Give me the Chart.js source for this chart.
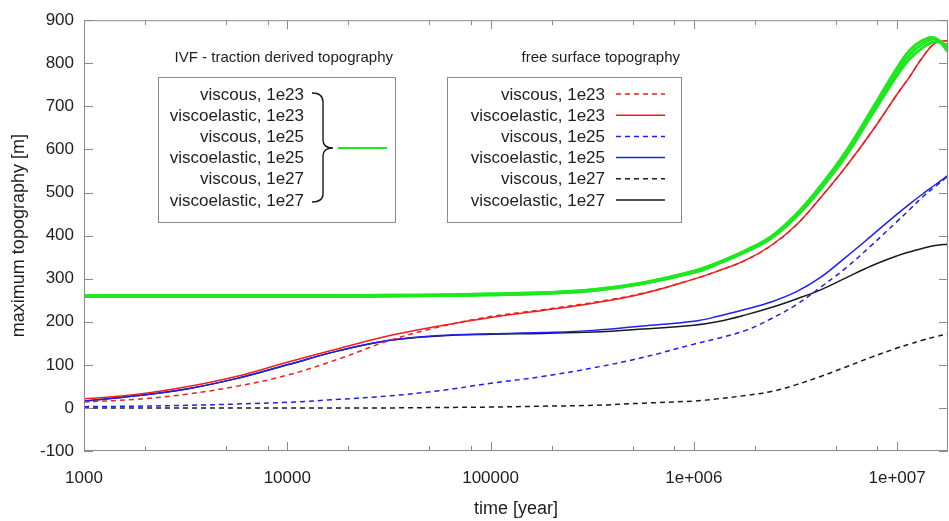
<!DOCTYPE html>
<html>
<head>
<meta charset="utf-8">
<script src="https://cdn.jsdelivr.net/npm/chart.js@4.4.0/dist/chart.umd.min.js"></script>
<style>
  html, body { margin: 0; padding: 0; background: #fff; overflow: hidden; }
</style>
</head>
<body>
<canvas id="chart" width="949" height="521"></canvas>
<script>
const times = [1000, 1800, 3200, 5600, 1e4, 1.8e4, 3.2e4, 5.6e4, 1e5, 1.8e5, 3.2e5, 5.6e5,
  1e6, 1.3e6, 1.8e6, 2.4e6, 3.2e6, 4.2e6, 5.6e6, 7.5e6, 1e7, 1.15e7, 1.33e7, 1.54e7, 1.78e7];

// IVF - traction derived topography (all drawn green)
const ivfVisc23 = [261, 261, 261, 261, 261, 261, 262, 263, 265, 268, 275, 291, 318, 337, 366, 398, 451, 516, 596, 693, 790, 830, 853, 859, 826];
const ivfVe23   = [261, 261, 261, 261, 261, 261, 262, 263, 265, 268, 275, 291, 318, 337, 366, 398, 450, 515, 595, 692, 789, 829, 852, 858, 827];
const ivfVisc25 = [259, 259, 259, 259, 259, 259, 260, 261, 263, 266, 273, 289, 316, 335, 364, 396, 448, 512, 591, 688, 781, 820, 845, 856, 836];
const ivfVe25   = [259, 259, 259, 259, 259, 259, 260, 261, 263, 266, 273, 289, 316, 335, 364, 396, 448, 512, 590, 687, 780, 819, 844, 856, 837];
const ivfVisc27 = [258, 258, 258, 258, 258, 258, 259, 260, 262, 265, 272, 288, 314, 333, 362, 393, 444, 507, 585, 680, 772, 810, 836, 850, 841];
const ivfVe27   = [258, 258, 258, 258, 258, 258, 259, 260, 262, 265, 272, 288, 314, 333, 362, 393, 444, 507, 584, 679, 771, 809, 835, 850, 842];

// free surface topography
const fsVisc23 = [14, 20, 32, 50, 76, 114, 157, 188, 212, 228, 245, 266, 299, 317, 343, 377, 425, 488, 560, 641, 728, 768, 813, 847, 853];
const fsVe23   = [21, 31, 49, 73, 106, 138, 168, 190, 210, 226, 243, 265, 299, 317, 343, 377, 425, 488, 560, 641, 728, 768, 813, 847, 853];
const fsVisc25 = [3, 4, 6, 9, 13, 20, 28, 40, 57, 73, 93, 117, 148, 161, 180, 207, 240, 280, 325, 378, 433, 460, 489, 514, 538];
const fsVe25   = [16, 28, 44, 68, 100, 133, 157, 168, 172, 175, 180, 190, 201, 212, 229, 246, 270, 303, 350, 400, 450, 473, 496, 518, 540];
const fsVisc27 = [0, 0, 0, 0, 0, 0, 0, 1, 2, 4, 6, 11, 16, 21, 29, 38, 54, 73, 95, 118, 139, 148, 157, 165, 172];
const fsVe27   = [16, 28, 44, 68, 100, 133, 157, 167, 171, 173, 176, 183, 192, 200, 216, 233, 253, 274, 302, 330, 353, 362, 370, 377, 380];

const xMajorTicks = [1e3, 1e4, 1e5, 1e6, 1e7];
const xTickLabels = ['1000', '10000', '100000', '1e+006', '1e+007'];
const xMinorTicks = [2e3, 5e3, 8e3, 2e4, 5e4, 8e4, 2e5, 5e5, 8e5, 2e6, 5e6, 8e6];
const yTicks = [-100, 0, 100, 200, 300, 400, 500, 600, 700, 800, 900];

const ivfLabels = ['viscous, 1e23', 'viscoelastic, 1e23', 'viscous, 1e25', 'viscoelastic, 1e25', 'viscous, 1e27', 'viscoelastic, 1e27'];
const fsLabels = ['viscous, 1e23', 'viscoelastic, 1e23', 'viscous, 1e25', 'viscoelastic, 1e25', 'viscous, 1e27', 'viscoelastic, 1e27'];

const GREEN = 'rgb(30, 232, 30)';
const RED = 'rgb(240, 30, 30)';
const BLUE = 'rgb(30, 30, 240)';
const BLACK = '#1a1a1a';
const TEXT = '#1e1e1e';
const AXIS = '#8a8a8a';
const FONT = '"Liberation Sans", Arial, sans-serif';

const fsStyles = [
  { color: RED, dash: [5, 4] }, { color: RED, dash: [] },
  { color: BLUE, dash: [5, 4] }, { color: BLUE, dash: [] },
  { color: BLACK, dash: [5, 4] }, { color: BLACK, dash: [] }
];

function toPoints(values) {
  return times.map((t, i) => ({ x: t, y: values[i] }));
}

const ivfSets = [ivfVisc23, ivfVe23, ivfVisc25, ivfVe25, ivfVisc27, ivfVe27].map((vals, i) => ({
  label: 'IVF ' + ivfLabels[i],
  data: toPoints(vals),
  borderColor: GREEN,
  borderWidth: 2.4,
  pointRadius: 0,
  tension: 0.4
}));

const fsSets = [fsVisc23, fsVe23, fsVisc25, fsVe25, fsVisc27, fsVe27].map((vals, i) => ({
  label: fsLabels[i],
  data: toPoints(vals),
  borderColor: fsStyles[i].color,
  borderDash: fsStyles[i].dash,
  borderWidth: 1.5,
  pointRadius: 0,
  tension: 0.4
}));

// frame and inward tick marks (gnuplot style)
const frameTicks = {
  id: 'frameTicks',
  afterDraw(chart) {
    const { ctx, chartArea: a, scales: { x, y } } = chart;
    ctx.save();
    ctx.strokeStyle = AXIS;
    ctx.lineWidth = 1;
    ctx.beginPath();
    ctx.rect(a.left + 0.5, a.top + 0.5, a.right - a.left - 1, a.bottom - a.top - 1);
    const xMark = (v, len) => {
      const px = Math.round(x.getPixelForValue(v)) + 0.5;
      ctx.moveTo(px, a.bottom); ctx.lineTo(px, a.bottom - len);
      ctx.moveTo(px, a.top); ctx.lineTo(px, a.top + len);
    };
    xMajorTicks.forEach(v => xMark(v, 9));
    xMinorTicks.forEach(v => xMark(v, 5));
    yTicks.forEach(v => {
      const py = Math.round(y.getPixelForValue(v)) + 0.5;
      ctx.moveTo(a.left, py); ctx.lineTo(a.left + 9, py);
      ctx.moveTo(a.right, py); ctx.lineTo(a.right - 9, py);
    });
    ctx.stroke();
    ctx.restore();
  }
};

// the two keys
const keys = {
  id: 'keys',
  afterDraw(chart) {
    const ctx = chart.ctx;
    const rowY = i => 95 + i * 21.2;
    ctx.save();
    ctx.strokeStyle = AXIS;
    ctx.lineWidth = 1;
    ctx.strokeRect(158.5, 77.5, 237, 145);
    ctx.strokeRect(447.5, 77.5, 234, 145);

    ctx.fillStyle = TEXT;
    ctx.textAlign = 'right';
    ctx.textBaseline = 'middle';
    ctx.font = '15px ' + FONT;
    ctx.fillText('IVF - traction derived topography', 393, 58);
    ctx.fillText('free surface topography', 680, 58);

    ctx.font = '17px ' + FONT;
    ivfLabels.forEach((t, i) => ctx.fillText(t, 304, rowY(i)));
    fsLabels.forEach((t, i) => ctx.fillText(t, 605, rowY(i)));

    // brace
    ctx.strokeStyle = BLACK;
    ctx.lineWidth = 1.4;
    ctx.beginPath();
    ctx.moveTo(312, 93);
    ctx.quadraticCurveTo(323, 93, 323, 102);
    ctx.lineTo(323, 140);
    ctx.quadraticCurveTo(323, 148, 333, 148);
    ctx.quadraticCurveTo(323, 148, 323, 156);
    ctx.lineTo(323, 194);
    ctx.quadraticCurveTo(323, 202, 312, 202);
    ctx.stroke();

    ctx.strokeStyle = GREEN;
    ctx.lineWidth = 2;
    ctx.beginPath();
    ctx.moveTo(338, 148); ctx.lineTo(387, 148);
    ctx.stroke();

    fsStyles.forEach((s, i) => {
      ctx.strokeStyle = s.color;
      ctx.lineWidth = 1.5;
      ctx.setLineDash(s.dash);
      ctx.beginPath();
      ctx.moveTo(616, rowY(i) - 1); ctx.lineTo(665, rowY(i) - 1);
      ctx.stroke();
    });
    ctx.restore();
  }
};

new Chart(document.getElementById('chart'), {
  type: 'line',
  data: { datasets: [...ivfSets, ...fsSets] },
  options: {
    responsive: false,
    animation: false,
    layout: { padding: { top: 14, right: 1, bottom: 0, left: 0 } },
    plugins: { legend: { display: false }, tooltip: { enabled: false } },
    scales: {
      x: {
        type: 'logarithmic',
        min: 1e3,
        max: 1.78e7,
        grid: { display: false, drawTicks: false },
        border: { display: false },
        afterBuildTicks: scale => { scale.ticks = xMajorTicks.concat(xMinorTicks).sort((a, b) => a - b).map(v => ({ value: v })); },
        afterFit: scale => { scale.height = 70; },
        ticks: {
          autoSkip: false,
          maxRotation: 0,
          padding: 17,
          color: TEXT,
          font: { family: FONT, size: 17 },
          callback: v => { const k = xMajorTicks.indexOf(v); return k >= 0 ? xTickLabels[k] : ''; }
        },
        title: { display: true, text: 'time [year]', color: TEXT, font: { family: FONT, size: 18 }, padding: { top: 0, bottom: 1 } }
      },
      y: {
        min: -100,
        max: 900,
        grid: { display: false, drawTicks: false },
        border: { display: false },
        afterFit: scale => { scale.width = 84; },
        ticks: { stepSize: 100, padding: 10, color: TEXT, font: { family: FONT, size: 17 } },
        title: { display: true, text: 'maximum topography [m]', color: TEXT, font: { family: FONT, size: 18 }, padding: { top: 8, bottom: 0 } }
      }
    }
  },
  plugins: [frameTicks, keys]
});
</script>
</body>
</html>
